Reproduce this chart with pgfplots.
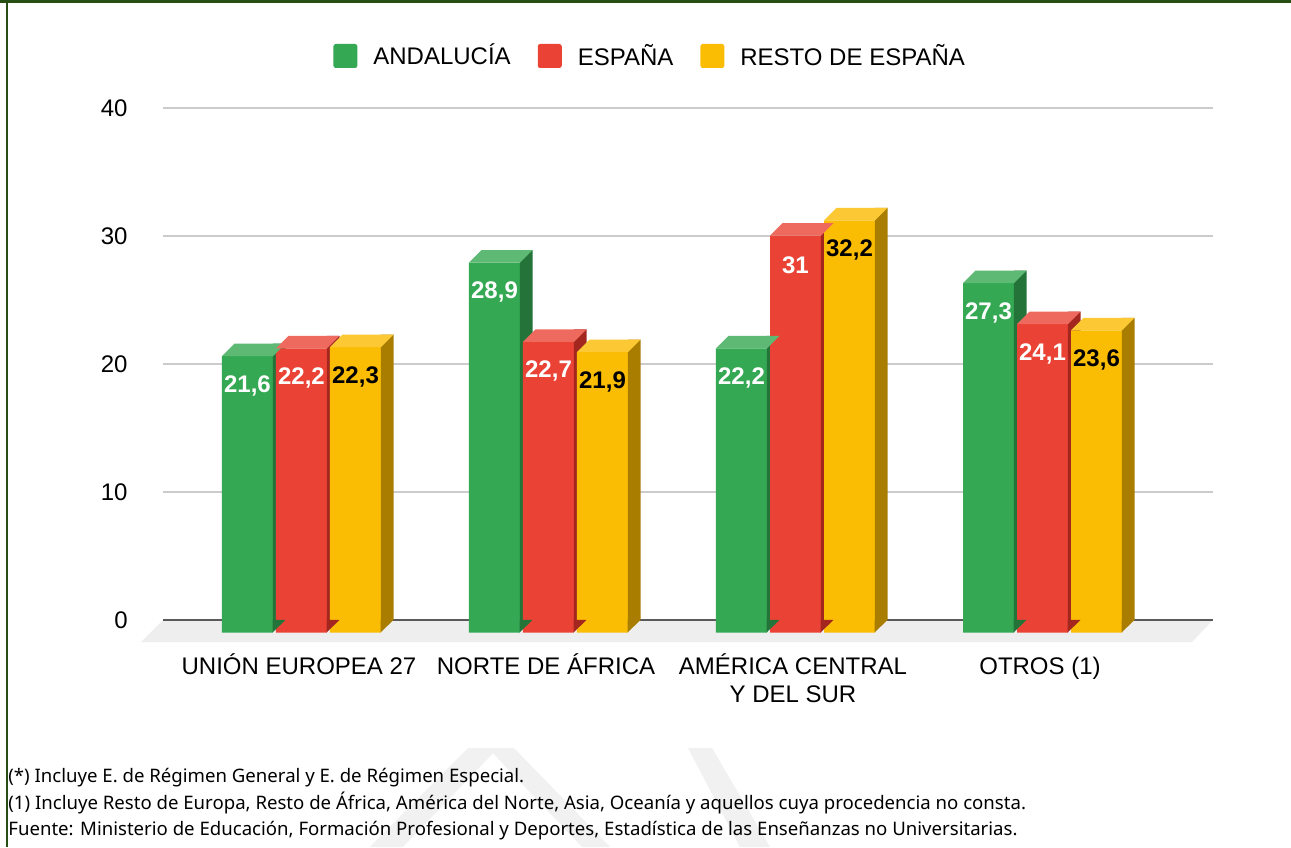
\documentclass[border=0pt]{standalone}
\usepackage{fontspec}
\setmainfont{Liberation Sans}
\newfontfamily\notefont{Noto Sans}
\usepackage{pgfplots}
\usepackage{pgfplotstable}
\pgfplotsset{compat=1.18}

\definecolor{gfront}{HTML}{34A853}
\definecolor{gside}{HTML}{24743A}
\definecolor{gtop}{HTML}{5DB974}
\definecolor{rfront}{HTML}{EA4335}
\definecolor{rside}{HTML}{A3271F}
\definecolor{rtop}{HTML}{EE6A5E}
\definecolor{yfront}{HTML}{FBBC04}
\definecolor{yside}{HTML}{A87D00}
\definecolor{ytop}{HTML}{FCC934}
\definecolor{gridgray}{HTML}{CCCCCC}
\definecolor{floorgray}{HTML}{EEEEEE}
\definecolor{zeroline}{HTML}{5A5A5A}
\definecolor{borderg}{HTML}{274E13}
\definecolor{wmark}{HTML}{F1F1F1}

% top face of a box (point = front centre x, back-top y)
\pgfdeclareplotmark{topface}{%
  \pgfpathmoveto{\pgfqpoint{-12.75pt}{-6.25pt}}%
  \pgfpathlineto{\pgfqpoint{12.75pt}{-6.25pt}}%
  \pgfpathlineto{\pgfqpoint{19pt}{0pt}}%
  \pgfpathlineto{\pgfqpoint{-6.5pt}{0pt}}%
  \pgfpathclose\pgfusepathqfill}
% lower triangle of the side face (point = front centre x, y = 0)
\pgfdeclareplotmark{sidetri}{%
  \pgfpathmoveto{\pgfqpoint{12.6pt}{-6.25pt}}%
  \pgfpathlineto{\pgfqpoint{19pt}{0.1pt}}%
  \pgfpathlineto{\pgfqpoint{12.6pt}{0.1pt}}%
  \pgfpathclose\pgfusepathqfill}

\pgfplotstableread{
x v
0 21.6
1 28.9
2 22.2
3 27.3
}\andalucia
\pgfplotstableread{
x v
0 22.2
1 22.7
2 31
3 24.1
}\espana
\pgfplotstableread{
x v
0 22.3
1 21.9
2 32.2
3 23.6
}\resto

% #1 table, #2 front shift, #3 side shift, #4 front, #5 side, #6 top, #7 label colour
\newcommand\boxseries[7]{%
  \addplot[forget plot, ybar, bar width=25.5pt, bar shift=#2pt, fill=#4, draw=none, yshift=-6.25pt]
    table[x=x,y=v]{#1};
  \addplot[forget plot, ybar, bar width=6.35pt, bar shift=#3pt, fill=#5, draw=none]
    table[x=x,y=v]{#1};
  \addplot[forget plot, only marks, mark=topface, mark options={fill=#6, draw=none}, xshift=#2pt]
    table[x=x,y=v]{#1};
  \addplot[forget plot, only marks, mark=sidetri, mark options={fill=#5, draw=none}, xshift=#2pt]
    table[x=x,y expr=0]{#1};
  \addplot[forget plot, draw=none, nodes near coords, point meta=y,
    nodes near coords style={anchor=center, inner sep=0pt, xshift=#2pt, yshift=-21pt,
      text=#7, font=\fontsize{12}{14}\selectfont\bfseries}]
    table[x=x,y=v]{#1};
}

\pgfplotsset{legsq/.style={legend image code/.code={%
  \fill[draw=none, rounded corners=1.2pt] (0pt,-6pt) rectangle (12pt,6pt);}}}

\begin{document}
\begin{tikzpicture}
\useasboundingbox (0,0) rectangle (645.5pt,423.5pt);
\fill[white] (0,0) rectangle (645.5pt,423.5pt);
% watermark
\fill[wmark] (234pt,49.5pt) -- (249pt,49.5pt) -- (201.5pt,0pt) -- (185pt,0pt) -- cycle;
\fill[wmark] (244pt,49.5pt) -- (257pt,49.5pt) -- (305pt,0pt) -- (291pt,0pt) -- cycle;
\fill[wmark] (344pt,49.5pt) -- (356pt,49.5pt) -- (385pt,0pt) -- (370pt,0pt) -- cycle;
% borders
\fill[borderg] (0pt,421.75pt) rectangle (645.5pt,423.5pt);
\fill[borderg] (3pt,0pt) rectangle (3.75pt,423.5pt);

\begin{axis}[
  at={(81.5pt,113.5pt)}, anchor=south west,
  scale only axis, width=525pt, height=256pt,
  clip=false,
  xmin=-0.5607, xmax=3.6903, ymin=0, ymax=40,
  ytick={0,10,20,30,40},
  xtick={0,1,2,3},
  xticklabels={{\vphantom{ÓÁÉ}UNIÓN EUROPEA 27},{\vphantom{ÓÁÉ}NORTE DE ÁFRICA},{\vphantom{ÓÁÉ}AMÉRICA CENTRAL\\Y DEL SUR},{\vphantom{ÓÁÉ}OTROS (1)}},
  axis line style={draw=none},
  tick style={draw=none},
  ymajorgrids, grid style={draw=gridgray, line width=1pt},
  /pgf/number format/.cd, use comma, fixed, precision=1, assume math mode=true,
  /pgfplots/.cd,
  yticklabel style={anchor=east, inner sep=0pt, xshift=-17.5pt, font=\fontsize{12}{14}\selectfont},
  xticklabel style={anchor=north, inner sep=0pt, yshift=-16.5pt, xshift=-1.25pt, align=center, font=\fontsize{12}{14}\selectfont},
  legend columns=3,
  legend cell align=left,
  legend style={at={(axis description cs:0.1619,1)}, anchor=west, yshift=26pt,
    draw=none, fill=none, inner sep=0pt, nodes={inner sep=0pt},
    font=\fontsize{12}{14}\selectfont,
    /tikz/every odd column/.append style={column sep=8pt},
    /tikz/every even column/.append style={column sep=13.5pt}},
]
% floor and zero line
\fill[floorgray] (rel axis cs:0,0) -- (rel axis cs:1,0) -- ([shift={(-10.5pt,-11pt)}]rel axis cs:1,0) -- ([shift={(-11pt,-11pt)}]rel axis cs:0,0) -- cycle;
\draw[zeroline, line width=1pt] (rel axis cs:0,0) -- (rel axis cs:1,0);

\boxseries{\andalucia}{-27}{-11.125}{gfront}{gside}{gtop}{white}
\boxseries{\espana}{0}{15.875}{rfront}{rside}{rtop}{white}
\boxseries{\resto}{27}{42.875}{yfront}{yside}{ytop}{black}

\addlegendimage{legsq, fill=gfront}\addlegendentry{ANDALUCÍA}
\addlegendimage{legsq, fill=rfront}\addlegendentry{ESPAÑA}
\addlegendimage{legsq, fill=yfront}\addlegendentry{RESTO DE ESPAÑA}
\end{axis}

\node[anchor=base west, inner sep=0pt, font=\notefont\fontsize{9.3}{11}\selectfont] at (4pt,32.5pt) {(*) Incluye E. de Régimen General y E. de Régimen Especial.};
\node[anchor=base west, inner sep=0pt, font=\notefont\fontsize{9.3}{11}\selectfont] at (4pt,19pt) {(1) Incluye Resto de Europa, Resto de África, América del Norte, Asia, Oceanía y aquellos cuya procedencia no consta.};
\node[anchor=base west, inner sep=0pt, font=\notefont\fontsize{9.3}{11}\selectfont] at (4pt,6pt) {Fuente: Ministerio de Educación, Formación Profesional y Deportes, Estadística de las Enseñanzas no Universitarias.};
\end{tikzpicture}
\end{document}
